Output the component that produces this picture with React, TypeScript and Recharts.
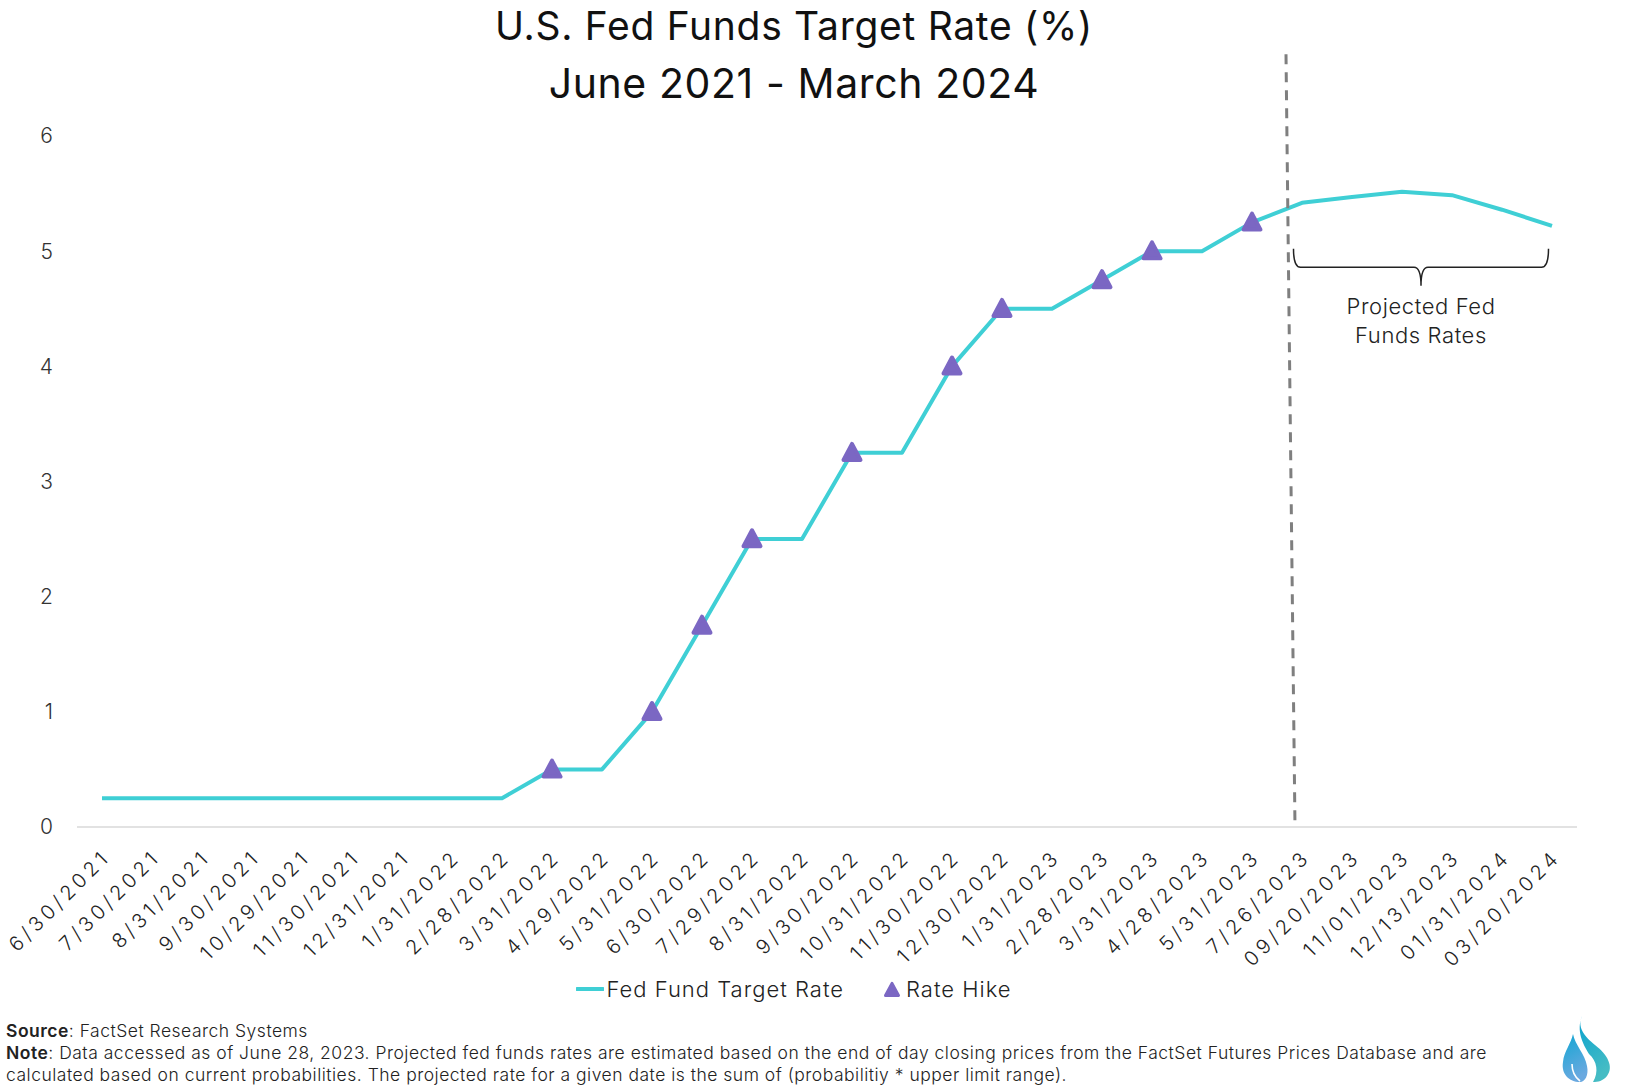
import React from "react";
import { LineChart, Line, XAxis, YAxis, ReferenceLine, ReferenceArea } from "recharts";

const dates = [
  "6/30/2021", "7/30/2021", "8/31/2021", "9/30/2021", "10/29/2021", "11/30/2021",
  "12/31/2021", "1/31/2022", "2/28/2022", "3/31/2022", "4/29/2022", "5/31/2022",
  "6/30/2022", "7/29/2022", "8/31/2022", "9/30/2022", "10/31/2022", "11/30/2022",
  "12/30/2022", "1/31/2023", "2/28/2023", "3/31/2023", "4/28/2023", "5/31/2023",
  "7/26/2023", "09/20/2023", "11/01/2023", "12/13/2023", "01/31/2024", "03/20/2024",
];

const rates = [
  0.25, 0.25, 0.25, 0.25, 0.25, 0.25, 0.25, 0.25, 0.25, 0.5, 0.5, 1,
  1.75, 2.5, 2.5, 3.25, 3.25, 4, 4.5, 4.5, 4.75, 5, 5, 5.25,
  5.42, 5.47, 5.515, 5.486, 5.36, 5.22,
];

// rate hike markers (null = no hike that month)
const hikes = [
  null, null, null, null, null, null, null, null, null, 0.5, null, 1,
  1.75, 2.5, null, 3.25, null, 4, 4.5, null, 4.75, 5, null, 5.25,
  null, null, null, null, null, null,
];

const yTicks = [0, 1, 2, 3, 4, 5, 6];
const xTicks = dates.map((_, i) => i);

// where the projection starts (dashed divider) and the brace over projected points
const dividerTop = { x: 23.68, y: 6.71 };
const dividerBottom = { x: 23.86, y: 0 };
const brace = { x1: 23.83, x2: 28.93, y1: 4.7, y2: 5.02 };

const data = dates.map((d, i) => ({ idx: i, date: d, rate: rates[i], hike: hikes[i] }));

const FONT = "Inter, 'Noto Sans', sans-serif";
const CYAN = "#3fcfd5";
const PURPLE = "#7b67c3";

function XTick({ x, y, payload }: any) {
  return (
    <g transform={`translate(${x + 5},${y + 26})`}>
      <text
        transform="rotate(-45)"
        textAnchor="end"
        dy="0.35em"
        fill="#222"
        fontSize={20}
        fontFamily={FONT}
        fontWeight={300}
        letterSpacing={4.3}
      >
        {dates[payload.value]}
      </text>
    </g>
  );
}

function triPoints(cx: number, cy: number, w: number, h: number) {
  return `${cx},${cy - h * 0.55} ${cx + w / 2},${cy + h * 0.45} ${cx - w / 2},${cy + h * 0.45}`;
}

function HikeDot(props: any) {
  const { cx, cy, value, index } = props;
  if (value == null || cy == null || isNaN(cy)) return <g key={index} />;
  return (
    <polygon
      key={index}
      points={triPoints(cx, cy, 17, 16)}
      fill={PURPLE}
      stroke={PURPLE}
      strokeWidth={4}
      strokeLinejoin="round"
    />
  );
}

function BraceShape(props: any) {
  const { x, y, width, height } = props;
  const mid = y + height * 0.5;
  const cx = x + width / 2;
  const d = `M${x},${y} Q${x},${mid} ${x + 7},${mid} L${cx - 7},${mid} Q${cx},${mid} ${cx},${y + height}` +
    ` M${cx},${y + height} Q${cx},${mid} ${cx + 7},${mid} L${x + width - 7},${mid} Q${x + width},${mid} ${x + width},${y}`;
  return (
    <g>
      <path d={d} fill="none" stroke="#222" strokeWidth={1.5} />
      <text x={cx} y={y + height + 28} textAnchor="middle" fontSize={22} fontFamily={FONT} fontWeight={300} fill="#222" letterSpacing={0.6}>
        Projected Fed
      </text>
      <text x={cx} y={y + height + 57} textAnchor="middle" fontSize={22} fontFamily={FONT} fontWeight={300} fill="#222" letterSpacing={0.6}>
        Funds Rates
      </text>
    </g>
  );
}

function ChartLegend() {
  return (
    <div style={{ position: "absolute", top: 976, left: 0, width: 1588, display: "flex", justifyContent: "center", alignItems: "center", fontFamily: FONT, fontSize: 22, color: "#222", fontWeight: 300, letterSpacing: 1 }}>
      <svg width={28} height={10} style={{ marginRight: 2 }}>
        <line x1={1} y1={5} x2={27} y2={5} stroke={CYAN} strokeWidth={4} strokeLinecap="round" />
      </svg>
      <span>Fed Fund Target Rate</span>
      <svg width={20} height={18} style={{ marginLeft: 38, marginRight: 4 }}>
        <polygon points={triPoints(10, 10, 13, 12)} fill={PURPLE} stroke={PURPLE} strokeWidth={3} strokeLinejoin="round" />
      </svg>
      <span>Rate Hike</span>
    </div>
  );
}

function Flame() {
  return (
    <svg width={62} height={72} viewBox="0 0 62 72" style={{ position: "absolute", left: 1558, top: 1014 }}>
      <defs>
        <linearGradient id="flameA" x1="0" y1="0" x2="0.4" y2="1">
          <stop offset="0%" stopColor="#0aa2cf" />
          <stop offset="100%" stopColor="#45bcc4" />
        </linearGradient>
        <linearGradient id="flameB" x1="0" y1="0" x2="0.3" y2="1">
          <stop offset="0%" stopColor="#12a6d3" />
          <stop offset="100%" stopColor="#6aa9e0" />
        </linearGradient>
      </defs>
      <path
        d="M24 2 C19 13, 26 22, 37 31 C50 41, 56 53, 49 62 C45 67, 40 68, 35 68 C41 58, 39 47, 31 40 C25 30, 18 17, 24 2 Z"
        fill="url(#flameA)"
      />
      <path
        d="M15 20 C17 31, 27 40, 29 52 C31 61, 27 68, 22 68 C11 68, 3 60, 5 48 C6 37, 13 30, 15 20 Z"
        fill="url(#flameB)"
      />
      <path d="M14 50 C14 58, 18 64, 22 67" fill="none" stroke="#fff" strokeWidth={1.6} />
      <path d="M33 44 C38 52, 37 60, 33 67" fill="none" stroke="#fff" strokeWidth={1.6} />
    </svg>
  );
}

export default function App() {
  return (
    <div style={{ position: "absolute", left: 0, top: 0, width: 1626, height: 1089, background: "#fff", overflow: "hidden" }}>
      <div style={{ position: "absolute", top: 4, left: 0, width: 1588, textAlign: "center", fontFamily: FONT, fontSize: 39, color: "#111", lineHeight: "44px", letterSpacing: 0.7 }}>
        <div>U.S. Fed Funds Target Rate (%)</div>
        <div style={{ fontSize: 41, letterSpacing: 0.6, marginTop: 13 }}>June 2021 - March 2024</div>
      </div>

      <LineChart width={1626} height={1089} data={data} margin={{ top: 136, right: 49, left: 17, bottom: 162 }}>
        <XAxis
          dataKey="idx"
          type="number"
          domain={[-0.5, 29.5]}
          ticks={xTicks}
          interval={0}
          tick={<XTick />}
          tickLine={false}
          tickSize={0}
          tickMargin={0}
          axisLine={{ stroke: "#d9d9d9", strokeWidth: 1.5 }}
          height={100}
          allowDataOverflow
        />
        <YAxis
          domain={[0, 6]}
          ticks={yTicks}
          width={60}
          axisLine={false}
          tickLine={false}
          tickSize={0}
          tickMargin={24}
          tick={{ fill: "#333", fontSize: 21, fontFamily: FONT, fontWeight: 300 }}
        />
        <Line
          dataKey="rate"
          stroke={CYAN}
          strokeWidth={4}
          dot={false}
          activeDot={false}
          isAnimationActive={false}
          strokeLinejoin="round"
        />
        <Line
          dataKey="hike"
          stroke="none"
          dot={(p: any) => <HikeDot key={p.index} {...p} />}
          activeDot={false}
          legendType="none"
          isAnimationActive={false}
        />
        <ReferenceLine
          segment={[dividerTop, dividerBottom]}
          stroke="#7f7f7f"
          strokeWidth={3}
          strokeDasharray="10 8"
          ifOverflow="visible"
        />
        <ReferenceArea
          x1={brace.x1}
          x2={brace.x2}
          y1={brace.y1}
          y2={brace.y2}
          ifOverflow="visible"
          shape={<BraceShape />}
        />
      </LineChart>

      <ChartLegend />

      <div style={{ position: "absolute", left: 6, top: 1020, fontFamily: FONT, fontSize: 17.5, color: "#222", lineHeight: "22px", fontWeight: 300, letterSpacing: 0.5, whiteSpace: "nowrap" }}>
        <div><b style={{ fontWeight: 600 }}>Source</b>: FactSet Research Systems</div>
        <div>
          <b style={{ fontWeight: 600 }}>Note</b>: Data accessed as of June 28, 2023. Projected fed funds rates are estimated based on the end of day closing prices from the FactSet Futures Prices Database and are
        </div>
        <div>calculated based on current probabilities. The projected rate for a given date is the sum of (probabilitiy * upper limit range).</div>
      </div>

      <Flame />
    </div>
  );
}
